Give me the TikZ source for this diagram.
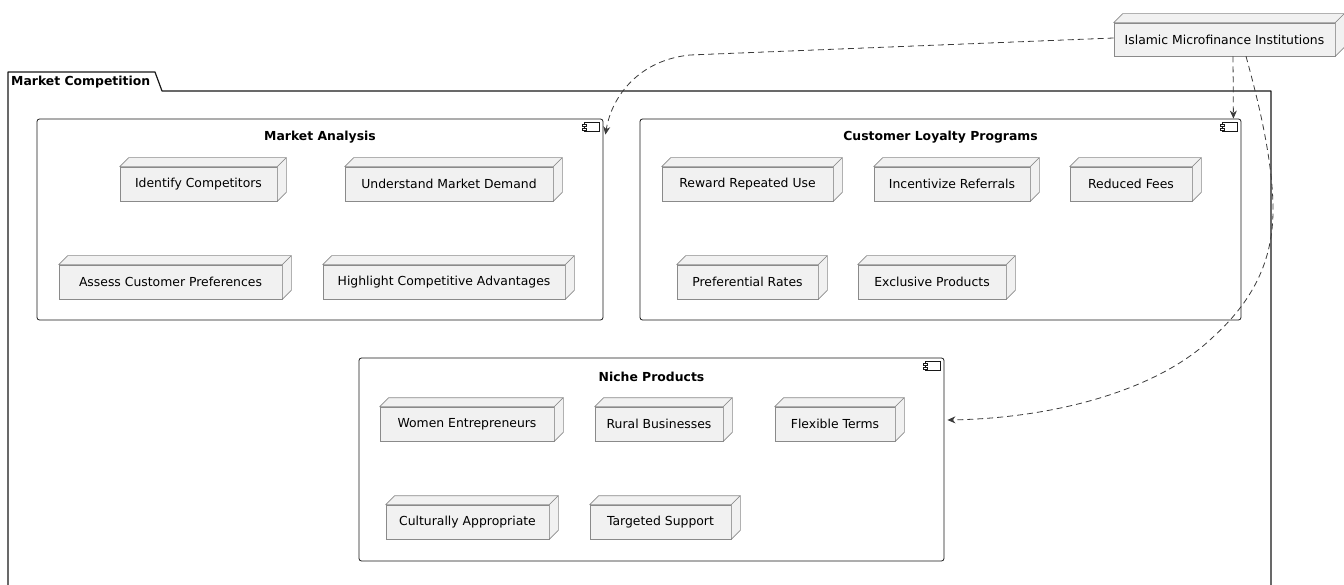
\documentclass[tikz,border=0pt]{standalone}
\usepackage{fontspec}
\setmainfont{DejaVu Sans}
\usetikzlibrary{arrows.meta}

\definecolor{nodefill}{HTML}{F1F1F1}
\definecolor{ink}{HTML}{181818}
\definecolor{nodeline}{HTML}{8A8A8A}

\tikzset{
  box3d/.style={rectangle, draw=nodeline, fill=nodefill, line width=0.6pt,
    minimum height=34pt, inner sep=0pt, font=\fontsize{12.4}{14}\selectfont},
  face3d/.style={draw=nodeline, fill=nodefill, line width=0.6pt, line join=round},
  compbox/.style={rectangle, draw=ink, line width=0.8pt, rounded corners=2.5pt, inner sep=0pt},
  comptitle/.style={font=\bfseries\fontsize{12.4}{14}\selectfont, inner sep=0pt},
  dep/.style={draw=ink!85, line width=0.8pt, dash pattern=on 6pt off 4pt,
    -{Stealth[length=8pt,width=7pt,inset=2.5pt]}},
}

\begin{document}
\begin{tikzpicture}[x=1pt,y=-1pt]
\useasboundingbox (0,0) rectangle (1344,585);

% package frame with its tab
\draw[ink, line width=1.2pt, line join=round]
  (8,600) -- (8,72) -- (155,72) -- (162,91) -- (1271,91) -- (1271,600);
\node[anchor=west, inner sep=0pt, font=\bfseries\fontsize{12.4}{14}\selectfont]
  (pkgtitle) at (11,82) {Market Competition};

% components
\node[compbox, minimum width=566pt, minimum height=201pt] (ma)  at (320,219.5) {};
\node[compbox, minimum width=601pt, minimum height=201pt] (clp) at (940.5,219.5) {};
\node[compbox, minimum width=585pt, minimum height=203pt] (np)  at (651.5,459.5) {};

\node[comptitle] (maT)  at (320,137)   {Market Analysis};
\node[comptitle] (clpT) at (940.5,137) {Customer Loyalty Programs};
\node[comptitle] (npT)  at (651.5,377) {Niche Products};

% component icons
\foreach \c in {ma,clp,np}{
  \draw[ink, line width=0.6pt, fill=white]
    ([shift={(-19,4)}]\c.north east) rectangle ([shift={(-4,13)}]\c.north east);
  \draw[ink, line width=0.5pt, fill=white]
    ([shift={(-21,6)}]\c.north east) rectangle ([shift={(-17,8)}]\c.north east);
  \draw[ink, line width=0.5pt, fill=white]
    ([shift={(-21,9.5)}]\c.north east) rectangle ([shift={(-17,11.5)}]\c.north east);
}

% nodes: Market Analysis
\node[box3d, minimum width=157pt] (idc) at (198.5,184) {Identify Competitors};
\node[box3d, minimum width=208pt] (umd) at (449,184)   {Understand Market Demand};
\node[box3d, minimum width=223pt] (acp) at (170.5,282) {Assess Customer Preferences};
\node[box3d, minimum width=242pt] (hca) at (444,282)   {Highlight Competitive Advantages};

% nodes: Customer Loyalty Programs
\node[box3d, minimum width=171pt] (rru) at (747.5,184) {Reward Repeated Use};
\node[box3d, minimum width=156pt] (inr) at (952,184)   {Incentivize Referrals};
\node[box3d, minimum width=122pt] (rdf) at (1131,184)  {Reduced Fees};
\node[box3d, minimum width=141pt] (prr) at (747.5,282) {Preferential Rates};
\node[box3d, minimum width=148pt] (exp) at (932,282)   {Exclusive Products};

% nodes: Niche Products
\node[box3d, minimum width=174pt] (wen) at (467,424)   {Women Entrepreneurs};
\node[box3d, minimum width=128pt] (rub) at (659,424)   {Rural Businesses};
\node[box3d, minimum width=120pt] (flt) at (835,424)   {Flexible Terms};
\node[box3d, minimum width=163pt] (cap) at (467.5,522) {Culturally Appropriate};
\node[box3d, minimum width=141pt] (tsp) at (660.5,522) {Targeted Support};

% outside actor
\node[box3d, minimum width=221pt, minimum height=33pt] (imi) at (1224.5,39.5)
  {Islamic Microfinance Institutions};

% 3D faces of the nodes
\foreach \n in {idc,umd,acp,hca,rru,inr,rdf,prr,exp,wen,rub,flt,cap,tsp,imi}{
  \path[face3d] (\n.north west) -- ([shift={(9,-9)}]\n.north west)
    -- ([shift={(9,-9)}]\n.north east) -- (\n.north east) -- cycle;
  \path[face3d] (\n.north east) -- ([shift={(9,-9)}]\n.north east)
    -- ([shift={(9,-9)}]\n.south east) -- (\n.south east) -- cycle;
}

% dependencies
\draw[dep] ([yshift=1.5pt]imi.west) -- (690,55)
  .. controls (640,60) and (612,95) .. ([shift={(2,16)}]ma.north east);
\draw[dep] ([xshift=8.5pt]imi.south) -- ([xshift=-8pt]clp.north east);
\draw[dep] ([xshift=21.5pt]imi.south)
  .. controls (1258,100) and (1273,160) .. (1273,210)
  .. controls (1273,262) and (1252,302) .. (1212,338)
  .. controls (1160,388) and (1060,418) .. ([shift={(3,-39.5)}]np.east);
\end{tikzpicture}
\end{document}
